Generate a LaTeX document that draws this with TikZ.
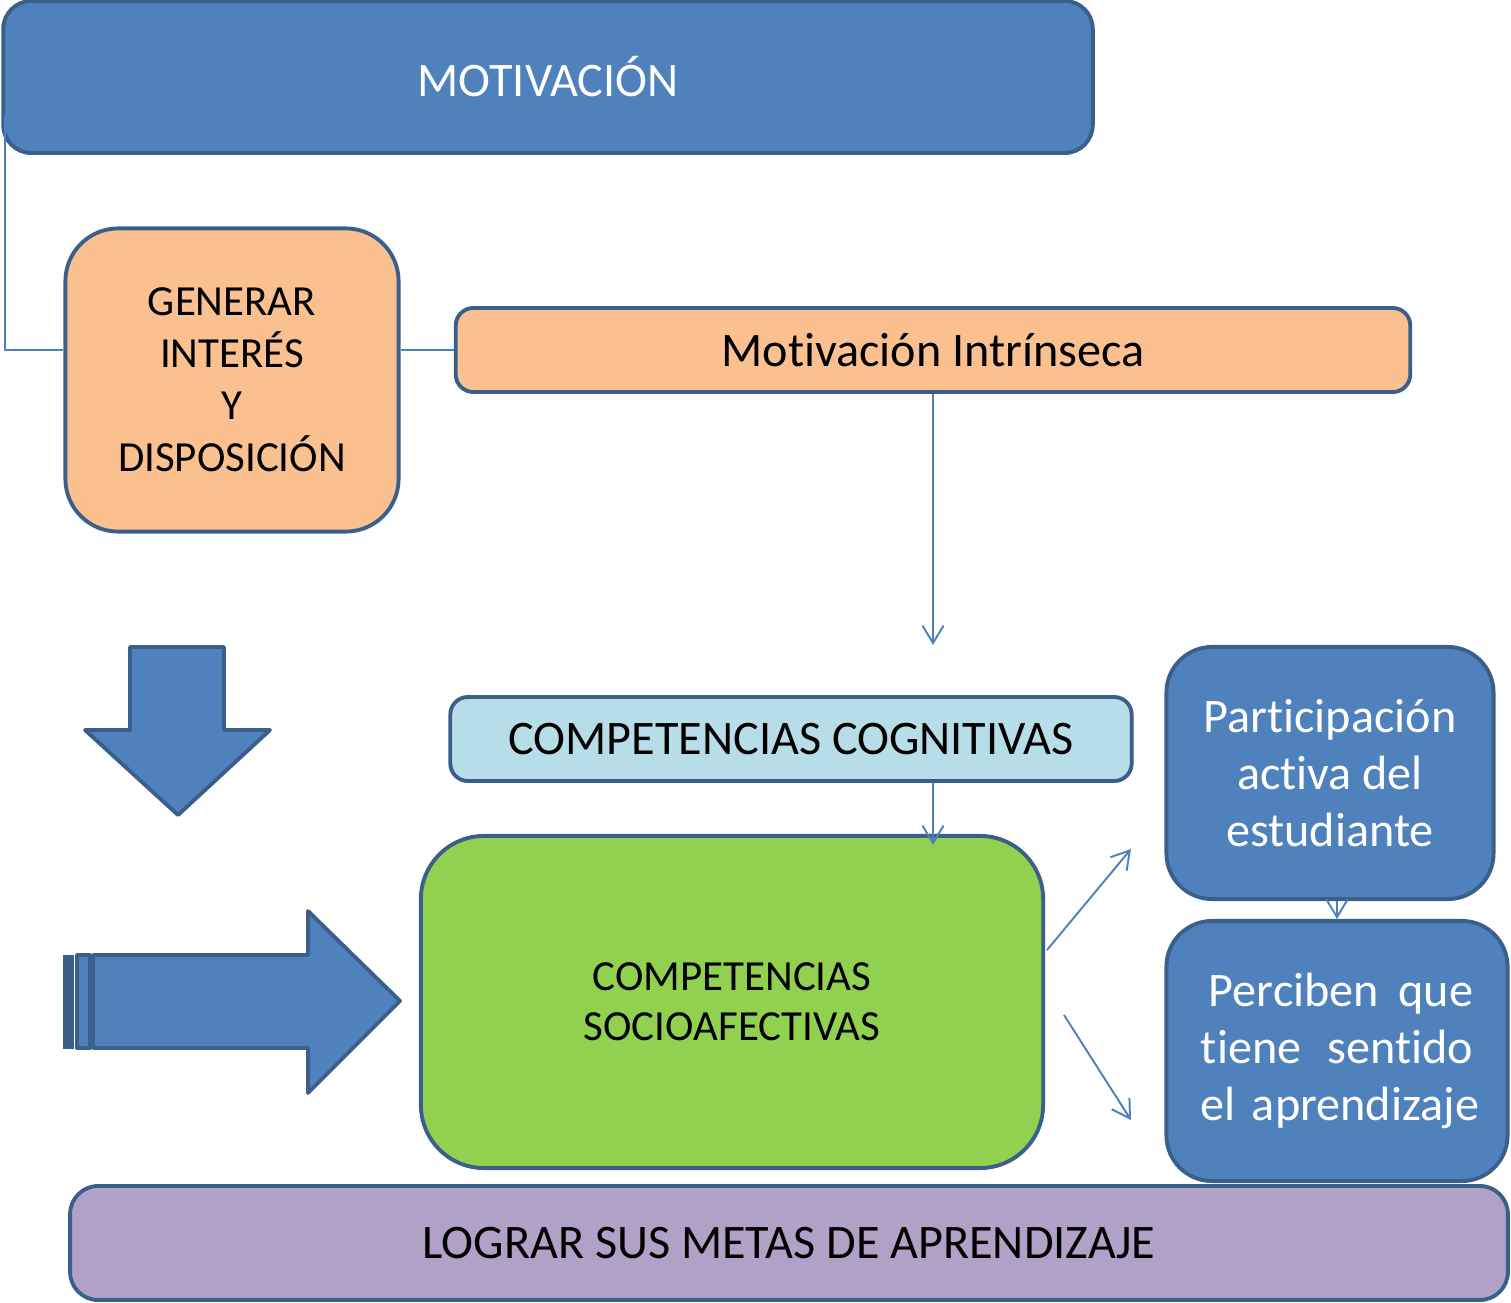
\documentclass[tikz,border=0pt]{standalone}
\usepackage{fontspec}
\setmainfont{Carlito}[Ligatures=NoCommon]
\usepackage{tikz}
\usetikzlibrary{arrows,arrows.meta,shapes,positioning}
\definecolor{azul}{HTML}{4F81BD}
\definecolor{borde}{HTML}{3A5F8B}
\definecolor{naranja}{HTML}{FAC090}
\definecolor{celeste}{HTML}{B7DDE8}
\definecolor{verde}{HTML}{92D050}
\definecolor{lila}{HTML}{B2A1C7}
\tikzstyle{caja}=[draw=borde, line width=1.1pt, rounded corners=8pt, inner sep=0pt, align=center]
\tikzstyle{enlace}=[draw=azul, line width=0.55pt]
\tikzstyle{flecha}=[enlace, -{Straight Barb[length=5pt,width=6pt]}]
\tikzstyle{bloque}=[fill=azul, draw=borde, line width=1.1pt, line join=round]

\begin{document}
\begin{tikzpicture}[x=0.01cm, y=-0.01cm]
\useasboundingbox (0,0) rectangle (1511,1303);

% cajas
\node[caja, fill=azul, text=white, minimum width=10.89cm, minimum height=1.52cm, font=\fontsize{13.7}{16}\selectfont] (motiv) at (548,77) {MOTIVACIÓN};
\node[caja, fill=naranja, rounded corners=15pt, minimum width=3.33cm, minimum height=3.03cm, font=\fontsize{12.2}{14.8}\selectfont] (interes) at (232,380) {\rule{0pt}{0.1cm}GENERAR\\INTERÉS\\Y\\DISPOSICIÓN};
\node[caja, fill=naranja, rounded corners=5pt, minimum width=9.54cm, minimum height=0.84cm, font=\fontsize{13.7}{16}\selectfont] (intrin) at (933,350) {Motivación Intrínseca};
\node[caja, fill=celeste, rounded corners=5pt, minimum width=6.81cm, minimum height=0.84cm, font=\fontsize{13.7}{16}\selectfont] (cognit) at (791,739) {COMPETENCIAS COGNITIVAS};
\node[caja, fill=verde, rounded corners=18pt, minimum width=6.22cm, minimum height=3.32cm, font=\fontsize{12.2}{14.2}\selectfont] (socio) at (732,1002) {\rule{0pt}{0.1cm}COMPETENCIAS\\SOCIOAFECTIVAS};
\node[caja, fill=azul, text=white, rounded corners=13pt, minimum width=3.27cm, minimum height=2.52cm, font=\fontsize{13.7}{16.2}\selectfont] (partic) at (1330,773) {Participación\\activa del\\estudiante};
\node[caja, fill=azul, text=white, rounded corners=13pt, minimum width=3.41cm, minimum height=2.60cm, text width=2.72cm, align=left, font=\fontsize{13.7}{16.2}\selectfont] (perci) at (1337,1051) {\hspace{0.08cm}Perciben\hfill que\\tiene\hfill sentido\\\mbox{el aprendizaje}};
\node[caja, fill=lila, rounded corners=8pt, minimum width=14.37cm, minimum height=1.14cm, font=\fontsize{13.7}{16}\selectfont] (metas) at (789,1243) {LOGRAR SUS METAS DE APRENDIZAJE};

% flechas de bloque
\draw[bloque] (130,647) -- (224,647) -- (224,730) -- (270,730) -- (178,815) -- (85,730) -- (130,730) -- cycle;
\draw[bloque] (93,955) -- (308,955) -- (308,911) -- (400,1001) -- (308,1093) -- (308,1048) -- (93,1048) -- cycle;
\draw[bloque] (77,955) rectangle (90,1048);
\fill[borde] (63,955) rectangle (74,1049);

% conectores
\coordinate (arriba) at (5,115);
\coordinate (esq) at (5,350);
\coordinate (finA) at (933,645);
\coordinate (finB) at (933,845);
\coordinate (iniC) at (1047,950);
\coordinate (flA) at (1131,849);
\coordinate (iniD) at (1064,1015);
\coordinate (flB) at (1131,1120);
\draw[enlace] (arriba) -- (esq) -- (esq -| interes.west);
\draw[enlace] (interes.east |- intrin.west) -- (intrin.west);
\draw[flecha] (intrin.south) -- (finA);
\draw[flecha] (cognit.south -| finB) -- (finB);
\draw[flecha] (iniC) -- (flA);
\draw[flecha] (iniD) -- (flB);
\draw[flecha] (partic.south -| perci.north) -- (perci.north);

\end{tikzpicture}
\end{document}
